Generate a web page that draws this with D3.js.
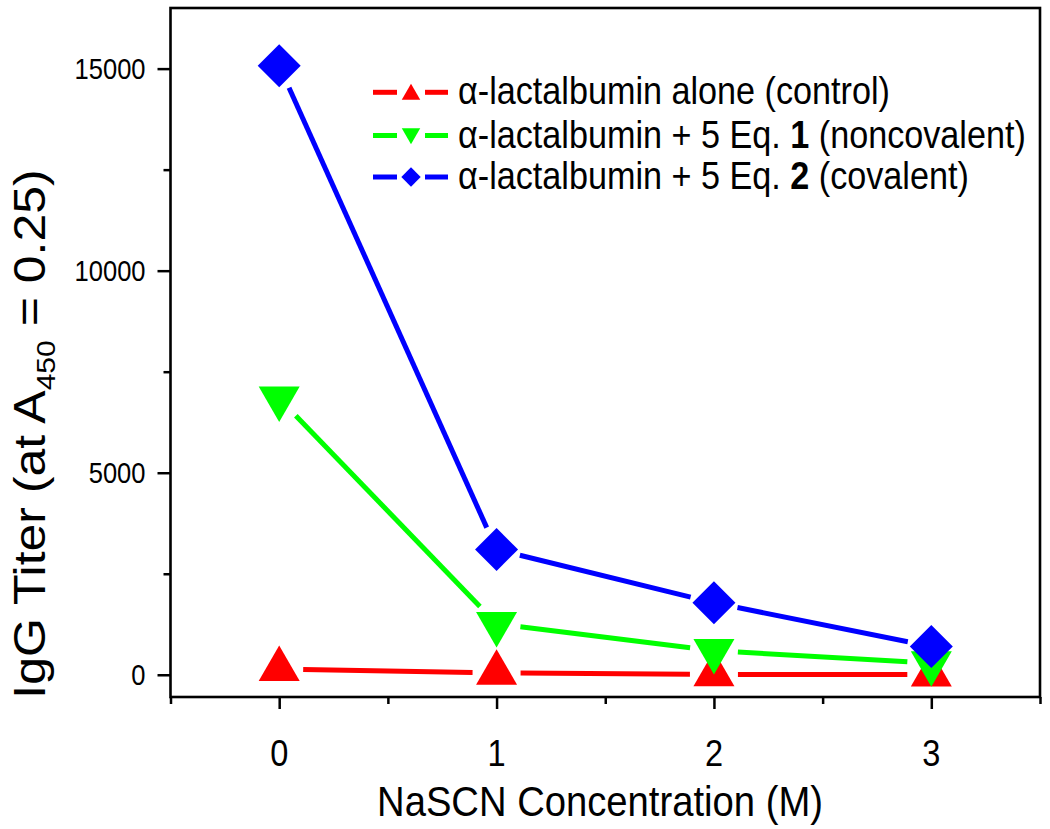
<!DOCTYPE html>
<html><head><meta charset="utf-8">
<script src="https://cdn.jsdelivr.net/npm/d3@7"></script>
<style>body{margin:0;background:#fff}svg{display:block}text{font-family:"Liberation Sans",Arial,sans-serif;fill:#000}</style>
</head><body>
<svg id="c" width="1050" height="829"></svg>
<script>
const categories = [0, 1, 2, 3];
const xTicks = [0, 1, 2, 3];
const xMinorTicks = [-0.5, 0.5, 1.5, 2.5, 3.5];
const yTicks = [0, 5000, 10000, 15000];
const yMinorTicks = [2500, 7500, 12500];
const redValues = [140, 45, 10, 5];
const greenValues = [6840, 1260, 595, 290];
const blueValues = [15070, 3100, 1780, 700];
const seriesNames = ["α-lactalbumin alone (control)", "α-lactalbumin + 5 Eq. |1| (noncovalent)", "α-lactalbumin + 5 Eq. |2| (covalent)"];
const xTitle = "NaSCN Concentration (M)";

const svg = d3.select("#c");
const L = 170.5, R = 1040, T = 8, B = 697;
const x = d3.scaleLinear().domain([-0.5, 3.5]).range([L, R]);
const y = d3.scaleLinear().domain([-550, 16500]).range([B, T]);
const SX = 0.88;

function htext(g, tx, ty, str, size, anchor, sx) {
  return g.append("text").attr("transform", `translate(${tx},${ty}) scale(${sx || SX},1)`)
    .attr("font-size", size).attr("text-anchor", anchor || "start").text(str);
}

// axes
const yAxis = d3.axisLeft(y).tickValues(yTicks).tickSize(13).tickFormat(d3.format("d"));
const gy = svg.append("g").attr("transform", `translate(${L},0)`).call(yAxis);
gy.select(".domain").remove();
gy.selectAll(".tick line").attr("stroke", "#000").attr("stroke-width", 2.5);
gy.selectAll(".tick text").remove();
yTicks.forEach(v => htext(svg, L - 25, y(v) + 10, d3.format("d")(v), 29, "end"));
const gym = svg.append("g").attr("transform", `translate(${L},0)`).call(d3.axisLeft(y).tickValues(yMinorTicks).tickSize(7).tickFormat(""));
gym.select(".domain").remove();
gym.selectAll(".tick line").attr("stroke", "#000").attr("stroke-width", 2.5);

const gx = svg.append("g").attr("transform", `translate(0,${B})`).call(d3.axisBottom(x).tickValues(xTicks).tickSize(12).tickFormat(""));
gx.select(".domain").remove();
gx.selectAll(".tick line").attr("stroke", "#000").attr("stroke-width", 2.5);
xTicks.forEach(v => htext(svg, x(v), 766, String(v), 37, "middle"));
const gxm = svg.append("g").attr("transform", `translate(0,${B})`).call(d3.axisBottom(x).tickValues(xMinorTicks).tickSize(7).tickFormat(""));
gxm.select(".domain").remove();
gxm.selectAll(".tick line").attr("stroke", "#000").attr("stroke-width", 2.5);

svg.append("rect").attr("x", L).attr("y", T).attr("width", R - L).attr("height", B - T)
  .attr("fill", "none").attr("stroke", "#000").attr("stroke-width", 2.6);

// titles
htext(svg, 600, 816, xTitle, 42, "middle", 0.91);
const yt = svg.append("text").attr("transform", `translate(45,434) rotate(-90) scale(1,${SX})`)
  .attr("font-size", 50).attr("text-anchor", "middle");
yt.append("tspan").text("IgG Titer (at A");
yt.append("tspan").attr("font-size", 30).attr("dy", 11).text("450");
yt.append("tspan").attr("dy", -11).text(" = 0.25)");

// markers
const triSide = 41, triH = triSide * Math.sqrt(3) / 2;
function marker(sel, type, cx, cy, scale, color) {
  const s = scale;
  let p;
  if (type === "up") {
    p = [[0, -2 / 3 * triH], [triSide / 2, triH / 3], [-triSide / 2, triH / 3]];
  } else if (type === "down") {
    p = [[0, 2 / 3 * triH], [triSide / 2, -triH / 3], [-triSide / 2, -triH / 3]];
  } else {
    p = [[0, -21.5], [21.5, 0], [0, 21.5], [-21.5, 0]];
  }
  sel.append("path").attr("d", "M" + p.map(q => [cx + q[0] * s, cy + q[1] * s].join(",")).join("L") + "Z")
    .attr("fill", color);
}

const series = [
  {vals: redValues, color: "#ff0000", type: "up"},
  {vals: greenValues, color: "#00ff00", type: "down"},
  {vals: blueValues, color: "#0000ff", type: "diamond"}
];
const gap = 24;
series.forEach(s => {
  const g = svg.append("g");
  const pts = categories.map((c, i) => [x(c), y(s.vals[i])]);
  for (let i = 0; i < pts.length - 1; i++) {
    const [x1, y1] = pts[i], [x2, y2] = pts[i + 1];
    const len = Math.hypot(x2 - x1, y2 - y1), ux = (x2 - x1) / len, uy = (y2 - y1) / len;
    g.append("line").attr("x1", x1 + ux * gap).attr("y1", y1 + uy * gap)
      .attr("x2", x2 - ux * gap).attr("y2", y2 - uy * gap)
      .attr("stroke", s.color).attr("stroke-width", 5);
  }
  pts.forEach(p => marker(g, s.type, p[0], p[1], 1, s.color));
});

// legend
const legY = [92.3, 135.5, 177];
series.forEach((s, i) => {
  const g = svg.append("g");
  g.append("line").attr("x1", 373).attr("x2", 397).attr("y1", legY[i]).attr("y2", legY[i]).attr("stroke", s.color).attr("stroke-width", 5);
  g.append("line").attr("x1", 425).attr("x2", 448).attr("y1", legY[i]).attr("y2", legY[i]).attr("stroke", s.color).attr("stroke-width", 5);
  marker(g, s.type, 411, legY[i] + (s.type === "up" ? 2 : s.type === "down" ? -2 : 0), 0.45, s.color);
  const parts = seriesNames[i].split("|");
  const t = g.append("text").attr("transform", `translate(458,${legY[i] + 12}) scale(0.9,1)`).attr("font-size", 38);
  parts.forEach((p, k) => t.append("tspan").attr("font-weight", k === 1 ? "bold" : "normal").text(p));
});
</script>
</body></html>
